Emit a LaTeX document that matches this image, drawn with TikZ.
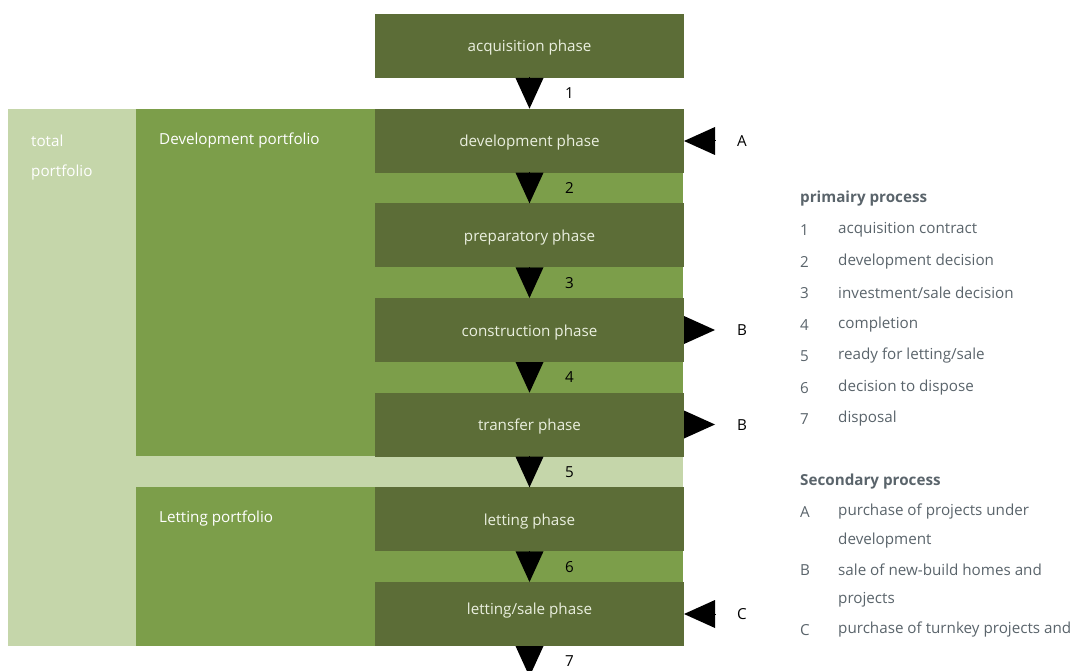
\documentclass[tikz,border=0pt]{standalone}
\usepackage{fontspec}
\setmainfont{Open Sans}
\usetikzlibrary{positioning,arrows.meta}
\definecolor{lightgreen}{HTML}{C5D6AA}
\definecolor{midgreen}{HTML}{7C9E4A}
\definecolor{darkgreen}{HTML}{5C6D37}
\definecolor{boxtext}{HTML}{EAEFDF}
\definecolor{legendgray}{HTML}{5A646B}
\tikzset{
  phase/.style={fill=darkgreen, text=boxtext, minimum width=309pt, minimum height=64pt,
    inner sep=0pt, outer sep=0pt, text height=15pt, text depth=3pt},
  flow/.style={-{Triangle[width=28pt,length=30.67pt]}, line width=0pt},
  side/.style={-{Triangle[width=28pt,length=31pt]}, line width=0pt},
  num/.style={text=black, inner sep=0pt},
  area/.style={text=white, anchor=west, inner sep=0pt},
  legend/.style={text=legendgray, anchor=west, inner sep=0pt}
}
\begin{document}
\begin{tikzpicture}[x=1pt, y=-1pt, node distance=30.67pt, font=\fontsize{15.2}{18}\selectfont]
  \useasboundingbox (0,0) rectangle (1071,671);
  % portfolio areas
  \fill[lightgreen] (8,109) rectangle (683,646);
  \fill[midgreen] (136,109) rectangle (683,456);
  \fill[midgreen] (136,487) rectangle (683,646);
  \node[area] (total1) at (31,141) {total};
  \node[area] (total2) at (31,173) {portfolio};
  \node[area] (devport) at (159,141) {Development portfolio};
  \node[area] (letport) at (159,519) {Letting portfolio};

  % phases
  \node[phase] (acq) at (529.5,46) {acquisition phase};
  \node[phase, below=of acq] (dev) {development phase};
  \node[phase, below=of dev] (prep) {preparatory phase};
  \node[phase, below=of prep] (constr) {construction phase};
  \node[phase, below=of constr] (trans) {transfer phase};
  \node[phase, below=of trans] (let) {letting phase};
  \node[phase, below=of let, text height=3pt] (sale) {letting/sale phase};
  \coordinate[below=of sale] (out);

  % primary process
  \draw[flow] (acq) -- (dev) node[num, midway, xshift=40pt] {1};
  \draw[flow] (dev) -- (prep) node[num, midway, xshift=40pt] {2};
  \draw[flow] (prep) -- (constr) node[num, midway, xshift=40pt] {3};
  \draw[flow] (constr) -- (trans) node[num, midway, xshift=40pt] {4};
  \draw[flow] (trans) -- (let) node[num, midway, xshift=40pt] {5};
  \draw[flow] (let) -- (sale) node[num, midway, xshift=40pt] {6};
  \draw[flow] (sale) -- (out) node[num, midway, xshift=40pt] {7};

  % secondary process
  \coordinate (inA) at (715,141);
  \coordinate (outB1) at (715,330);
  \coordinate (outB2) at (715,424.5);
  \coordinate (inC) at (715,614);
  \draw[side] (inA) -- (dev.east |- inA);
  \draw[side] (constr.east |- outB1) -- (outB1);
  \draw[side] (trans.east |- outB2) -- (outB2);
  \draw[side] (inC) -- (sale.east |- inC);
  \node[num] (labA) at (742,141) {A};
  \node[num] (labB1) at (742,330) {B};
  \node[num] (labB2) at (742,425) {B};
  \node[num] (labC) at (742,614) {C};

  % legend
  \node[legend, font=\fontsize{15.2}{18}\selectfont\bfseries] (prim) at (800,199) {primairy process};
  \node[legend] at (800,230) {1};  \node[legend] at (838,230) {acquisition contract};
  \node[legend] at (800,262) {2};  \node[legend] at (838,262) {development decision};
  \node[legend] at (800,293) {3};  \node[legend] at (838,293) {investment/sale decision};
  \node[legend] at (800,325) {4};  \node[legend] at (838,325) {completion};
  \node[legend] at (800,356) {5};  \node[legend] at (838,356) {ready for letting/sale};
  \node[legend] at (800,388) {6};  \node[legend] at (838,388) {decision to dispose};
  \node[legend] at (800,419) {7};  \node[legend] at (838,419) {disposal};
  \node[legend, font=\fontsize{15.2}{18}\selectfont\bfseries] (sec) at (800,482) {Secondary process};
  \node[legend] at (800,512) {A};  \node[legend] at (838,512) {purchase of projects under};
  \node[legend] at (838,541) {development};
  \node[legend] at (800,570) {B};  \node[legend] at (838,570) {sale of new-build homes and};
  \node[legend] at (838,600) {projects};
  \node[legend] at (800,630) {C};  \node[legend] at (838,630) {purchase of turnkey projects and};
\end{tikzpicture}
\end{document}
